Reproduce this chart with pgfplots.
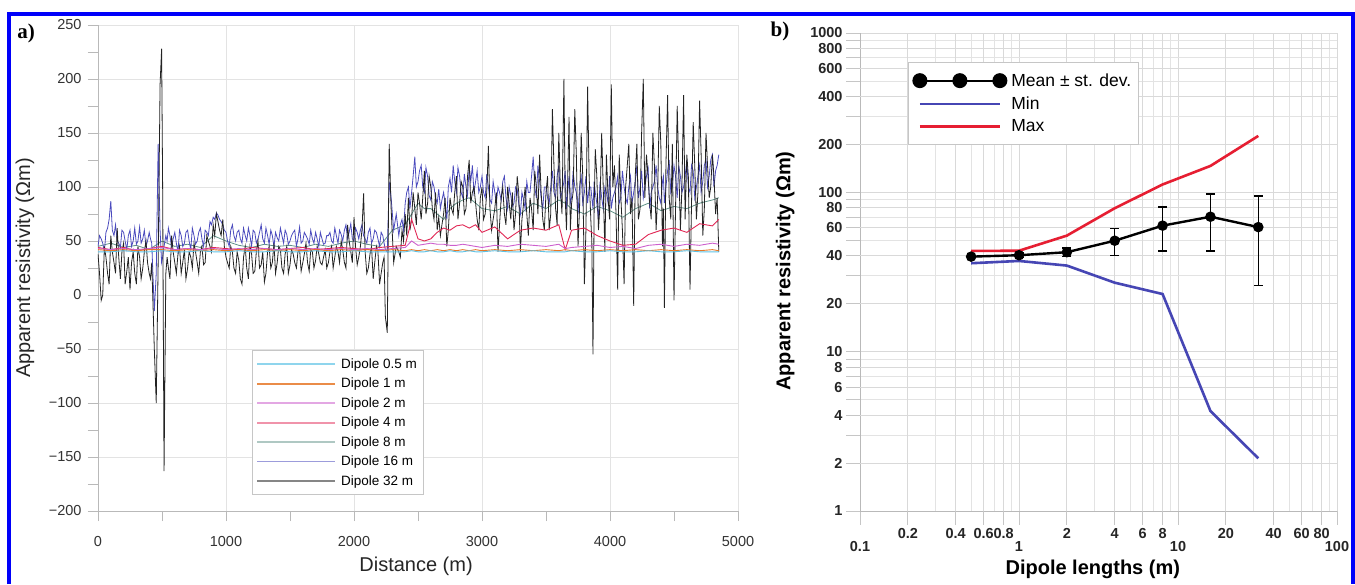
\documentclass[border=0pt]{standalone}
\usepackage{fontspec}
\setmainfont{Liberation Sans}
\newfontfamily\serifbold{Liberation Serif}
\usepackage{pgfplots}
\usepackage{pgfplotstable}
\pgfplotsset{compat=1.18}

\definecolor{cdp05}{RGB}{95,195,230}
\definecolor{cdp1}{RGB}{230,120,40}
\definecolor{cdp2}{RGB}{205,95,205}
\definecolor{cdp4}{RGB}{225,40,85}
\definecolor{cdp8}{RGB}{95,145,135}
\definecolor{cdp16}{RGB}{75,75,190}
\definecolor{cdp32}{RGB}{35,35,35}
\definecolor{cmin}{RGB}{70,70,180}
\definecolor{cmax}{RGB}{230,30,50}
\definecolor{frameblue}{RGB}{0,0,250}

% dipole 16 m and 32 m profiles
\pgfplotstableread{
x b16 b32
0 45 38
12 55 20
25 52 -5
37 48 0
50 40 45
62 58 35
75 62 20
87 70 10
100 87 55
112 60 40
125 55 30
137 65 20
150 50 62
162 48 35
175 44 15
187 60 40
200 58 48
212 50 10
225 42 22
237 55 35
250 60 5
262 45 30
275 50 40
287 62 20
300 47 10
312 50 45
325 63 35
337 48 15
350 52 25
362 60 40
375 45 50
387 50 30
400 58 20
410 52 15
420 48 30
440 -15 -50
455 20 -100
470 140 30
485 60 195
497 30 228
505 35 100
516 45 -163
530 55 20
540 50 35
550 62 25
562 55 15
575 45 55
587 52 40
600 58 30
612 48 20
625 40 38
637 60 45
650 55 20
662 45 30
675 48 42
687 58 15
700 60 25
712 50 40
725 42 35
737 62 25
750 55 48
762 47 40
775 50 30
787 58 20
800 62 40
812 52 45
825 45 28
837 60 30
850 58 55
862 55 50
875 68 45
887 65 40
900 72 65
912 70 55
925 76 75
937 74 68
950 70 60
962 68 55
975 65 70
987 60 45
1000 58 35
1012 50 30
1025 45 25
1037 60 45
1050 65 40
1062 55 25
1075 50 20
1087 58 40
1100 60 32
1112 52 15
1125 48 10
1137 62 35
1150 55 45
1162 50 25
1175 62 15
1187 55 45
1200 45 38
1212 60 20
1225 58 22
1237 48 40
1250 52 50
1262 58 25
1275 65 28
1287 52 40
1300 48 12
1312 62 20
1325 55 40
1337 47 45
1350 60 25
1362 55 30
1375 45 48
1387 58 20
1400 53 30
1412 50 45
1425 62 42
1437 55 25
1450 48 20
1462 60 38
1475 56 45
1487 47 20
1500 50 28
1512 55 42
1525 58 38
1537 60 30
1550 45 25
1562 52 40
1575 63 42
1587 48 22
1600 50 30
1612 58 38
1625 55 48
1637 52 30
1650 47 22
1662 60 42
1675 52 40
1687 48 25
1700 58 32
1712 52 45
1725 45 38
1737 58 30
1750 52 28
1762 47 35
1775 48 42
1787 55 25
1800 55 30
1812 58 40
1825 50 45
1837 48 25
1850 62 35
1862 55 45
1875 48 40
1887 60 30
1900 56 50
1912 50 42
1925 60 30
1937 65 25
1950 52 65
1962 58 50
1975 66 40
1987 52 30
2000 50 72
2012 62 45
2025 58 28
2037 52 35
2050 60 45
2062 65 60
2075 55 94
2087 52 40
2100 48 20
2112 58 25
2125 62 38
2137 48 45
2150 52 15
2162 60 30
2175 58 45
2187 52 40
2200 45 10
2212 58 20
2225 55 30
2235 48 35
2245 42 -20
2260 40 -35
2275 105 140
2290 90 80
2310 60 30
2330 75 45
2350 55 40
2362 65 35
2375 70 60
2387 60 50
2400 85 75
2412 95 55
2425 100 90
2437 80 60
2450 95 70
2462 110 95
2475 128 80
2487 100 65
2500 105 95
2512 115 85
2525 120 70
2537 100 90
2550 95 115
2562 118 75
2575 110 85
2587 92 110
2600 88 100
2612 105 80
2625 100 70
2637 90 95
2650 85 60
2662 98 72
2675 80 55
2687 88 65
2700 95 75
2712 85 90
2725 70 45
2737 100 60
2750 108 90
2762 95 80
2775 120 75
2787 105 95
2800 95 110
2812 118 70
2825 110 85
2837 95 105
2850 90 100
2862 112 75
2875 100 80
2887 92 110
2900 118 125
2912 105 85
2925 120 95
2937 95 100
2950 105 85
2962 115 70
2975 95 60
2987 100 90
3000 110 100
3012 95 70
3025 90 75
3037 112 95
3050 100 138
3062 88 80
3075 85 60
3087 105 70
3100 95 80
3112 85 95
3125 100 40
3137 95 65
3150 88 90
3162 105 100
3175 110 75
3187 90 65
3200 80 100
3212 100 85
3225 92 70
3237 82 95
3250 85 60
3262 100 75
3275 98 110
3287 85 95
3300 75 40
3312 95 70
3325 88 85
3337 80 100
3350 105 75
3362 95 55
3375 95 90
3387 110 80
3400 128 60
3412 100 115
3425 90 100
3437 120 75
3450 105 130
3462 90 95
3475 80 70
3487 100 60
3500 100 95
3512 90 110
3525 85 60
3537 100 75
3550 115 172
3562 95 120
3575 90 80
3587 110 65
3600 120 150
3612 90 100
3625 95 75
3632 100 135
3640 105 200
3650 115 90
3660 80 60
3670 95 110
3680 110 165
3690 85 60
3700 90 85
3712 115 95
3725 100 172
3737 95 130
3750 75 45
3762 100 80
3775 110 150
3787 85 110
3800 95 10
3812 110 60
3825 85 193
3837 100 110
3850 100 70
3858 90 50
3867 80 -55
3876 105 80
3885 95 135
3897 85 110
3910 70 60
3922 105 85
3935 90 150
3947 80 100
3960 100 40
3972 95 130
3985 85 90
3997 110 70
4010 80 195
4022 90 100
4035 95 120
4047 100 75
4060 110 5
4072 85 130
4085 90 90
4097 115 60
4110 100 10
4122 90 100
4135 85 120
4147 100 140
4160 110 75
4172 85 90
4185 95 -10
4197 105 110
4210 120 140
4222 90 70
4235 100 80
4247 115 150
4260 90 200
4272 100 90
4285 110 130
4297 120 110
4310 80 85
4322 95 70
4335 100 150
4347 105 120
4360 120 60
4372 100 90
4385 90 175
4397 85 140
4410 105 45
4417 110 80
4425 85 -12
4437 100 120
4450 115 185
4462 125 90
4475 95 70
4487 100 140
4500 120 -5
4512 110 80
4525 90 175
4537 120 120
4550 110 60
4562 95 100
4575 100 185
4587 110 70
4600 125 130
4612 100 110
4625 95 5
4637 120 85
4650 115 160
4662 90 120
4675 100 70
4687 110 95
4700 120 180
4712 95 130
4725 105 55
4737 120 80
4750 125 150
4762 100 120
4775 110 90
4787 125 100
4800 130 130
4812 100 110
4825 115 75
4837 120 90
4850 130 40
}\noisy

% dipoles 0.5 to 8 m
\pgfplotstableread{
x d05 d1 d2 d4 d8
0 40 42 43 44 45
100 40 41 42 42 48
200 41 42 43 44 44
300 40 41 42 41 46
400 40 42 43 43 42
500 41 42 44 45 50
600 40 41 42 42 45
700 40 42 43 43 47
800 41 41 42 42 44
900 40 42 43 44 55
1000 40 41 42 43 50
1100 41 42 43 42 46
1200 40 41 42 44 44
1300 40 42 43 43 47
1400 41 41 42 42 45
1500 40 42 43 43 46
1600 40 41 42 44 44
1700 41 42 43 42 47
1800 40 41 42 43 45
1900 40 42 43 44 48
2000 41 41 42 43 50
2100 40 42 43 42 47
2200 40 41 42 44 45
2300 40 42 43 45 60
2400 40 41 44 46 65
2450 41 42 50 70 75
2500 40 41 46 52 85
2550 40 42 47 50 80
2600 41 41 48 52 80
2650 40 42 47 58 75
2700 40 41 47 62 70
2750 41 42 46 60 80
2800 40 41 46 64 85
2850 40 42 47 65 88
2900 41 41 46 62 90
2950 40 42 45 65 85
3000 40 41 44 58 80
3100 41 42 46 63 78
3200 40 41 45 52 82
3300 40 42 47 60 75
3400 41 41 46 62 85
3500 40 42 45 60 80
3600 40 41 47 65 88
3650 40 42 43 42 85
3700 41 41 44 60 80
3800 40 42 45 62 75
3900 40 41 46 55 82
4000 41 42 44 50 78
4100 40 41 45 46 72
4200 40 42 43 47 80
4300 41 41 46 56 85
4400 40 42 47 60 78
4500 40 41 45 62 82
4600 41 42 47 58 80
4700 40 41 46 66 85
4800 40 42 48 64 88
4850 40 41 47 70 90
}\smooth

\begin{document}
\begin{tikzpicture}[x=1pt,y=1pt]
\useasboundingbox (0,0) rectangle (1355,584);
\fill[white] (0,0) rectangle (1355,584);

% ---------- a) profiles ----------
\begin{axis}[
  at={(98pt,73pt)}, anchor=south west,
  scale only axis, width=640pt, height=486pt,
  xmin=0, xmax=5000, ymin=-200, ymax=250,
  axis lines*=left,
  axis line style={gray!55},
  xtick={0,1000,...,5000},
  xticklabels={0,1000,2000,3000,4000,5000},
  ytick={-200,-150,...,250},
  yticklabels={−200,−150,−100,−50,0,50,100,150,200,250},
  scaled ticks=false,
  minor x tick num=1, minor y tick num=1,
  tick align=outside, major tick length=10pt, minor tick length=10pt,
  tick style={gray!55, line width=0.8pt},
  grid=major, major grid style={gray!22, line width=0.9pt},
  /pgf/number format/assume math mode=true,
  ticklabel style={font=\fontsize{14.5}{15}\selectfont, text=black!80},
  xticklabel style={yshift=-12pt},
  yticklabel style={xshift=-3pt},
  xlabel={Distance (m)},
  xlabel style={at={(axis description cs:0.497,-0.1146)}, anchor=center, font=\fontsize{20}{20}\selectfont, text=black!85},
  ylabel={Apparent resistivity (Ωm)},
  ylabel style={at={(axis description cs:-0.114,0.5)}, anchor=center, font=\fontsize{20}{20}\selectfont, text=black!85},
  legend style={at={(0.2406,0.331)}, anchor=north west, draw=gray!45, line width=0.8pt,
    fill=white, font=\fontsize{13.5}{14}\selectfont, row sep=4.2pt, column sep=3pt,
    inner xsep=4pt, inner ysep=6pt, cells={anchor=west}},
  legend image code/.code={\draw[#1] (0pt,0pt) -- (78pt,0pt);},
]
\addplot[cdp8, line width=0.8pt, forget plot] table[x=x, y=d8] {\smooth};
\addplot[cdp16, line width=0.8pt, forget plot] table[x=x, y=b16] {\noisy};
\addplot[cdp32, line width=0.8pt, forget plot] table[x=x, y=b32] {\noisy};
\addplot[cdp4, line width=0.9pt, forget plot] table[x=x, y=d4] {\smooth};
\addplot[cdp2, line width=0.9pt, forget plot] table[x=x, y=d2] {\smooth};
\addplot[cdp1, line width=0.9pt, forget plot] table[x=x, y=d1] {\smooth};
\addplot[cdp05, line width=0.9pt, forget plot] table[x=x, y=d05] {\smooth};
\addlegendimage{cdp05!70, line width=1.8pt}\addlegendentry{Dipole 0.5 m}
\addlegendimage{cdp1!85, line width=1.8pt}\addlegendentry{Dipole 1 m}
\addlegendimage{cdp2!55, line width=1.8pt}\addlegendentry{Dipole 2 m}
\addlegendimage{cdp4!50, line width=1.8pt}\addlegendentry{Dipole 4 m}
\addlegendimage{cdp8!50, line width=1.8pt}\addlegendentry{Dipole 8 m}
\addlegendimage{cdp16!55, line width=1.8pt}\addlegendentry{Dipole 16 m}
\addlegendimage{cdp32!55, line width=1.8pt}\addlegendentry{Dipole 32 m}
\end{axis}

% ---------- b) statistics ----------
\begin{axis}[
  at={(860pt,73pt)}, anchor=south west,
  scale only axis, width=477pt, height=478pt,
  xmode=log, ymode=log,
  xmin=0.1, xmax=100, ymin=1, ymax=1000,
  axis lines*=left,
  axis line style={gray!55},
  xtick={0.1,1,10,100}, xticklabels={0.1,1,10,100},
  ytick={1,10,100,1000}, yticklabels={1,10,100,1000},
  extra x ticks={0.2,0.4,0.6,0.8,2,4,6,8,20,40,60,80},
  extra x tick labels={0.2,0.4,0.6,0.8,2,4,6,8,20,40,60,80},
  extra y ticks={2,4,6,8,20,40,60,80,200,400,600,800},
  extra y tick labels={2,4,6,8,20,40,60,80,200,400,600,800},
  extra x tick style={xticklabel style={yshift=13pt}},
  tick align=outside, major tick length=14pt, minor tick length=14pt,
  tick style={gray!45, line width=0.8pt},
  minor x tick style={draw=none},
  grid=both, major grid style={gray!30, line width=0.9pt},
  minor grid style={gray!22, line width=0.8pt},
  /pgf/number format/assume math mode=true,
  ticklabel style={font=\bfseries\fontsize{14.5}{15}\selectfont, text=black!85},
  xticklabel style={yshift=-13pt},
  xlabel={Dipole lengths (m)},
  xlabel style={at={(axis description cs:0.488,-0.123)}, anchor=center, font=\bfseries\fontsize{20}{20}\selectfont},
  ylabel={Apparent resistivity (Ωm)},
  ylabel style={at={(axis description cs:-0.157,0.502)}, anchor=center, font=\bfseries\fontsize{20}{20}\selectfont},
  legend style={at={(0.1006,0.939)}, anchor=north west, draw=gray!45, line width=0.8pt,
    fill=white, font=\fontsize{17.5}{18}\selectfont, row sep=5pt, column sep=3pt,
    inner xsep=5pt, inner ysep=9pt, cells={anchor=west}},
  legend image code/.code={\draw[#1] plot coordinates {(0pt,0pt) (40pt,0pt) (80pt,0pt)};},
]
\addplot[cmin, line width=2.6pt, forget plot] coordinates {
  (0.5,35.9) (1,37.1) (2,34.7) (4,27.1) (8,23.0) (16,4.24) (32,2.14)};
\addplot[cmax, line width=2.6pt, forget plot] coordinates {
  (0.5,42.9) (1,43.0) (2,53.5) (4,79.5) (8,112) (16,146.5) (32,226)};
\addplot[black, line width=2.4pt, mark=*, mark size=4pt, forget plot,
  error bars/.cd, y dir=both, y explicit,
  error bar style={line width=1.5pt},
  error mark options={rotate=90, mark size=4.5pt, line width=1.5pt}]
  coordinates {
  (0.5,39.5) +- (0,0.6)
  (1,40.3) +- (0,1.2)
  (2,42.1) +- (0,2.6)
  (4,49.7) +- (0,9.5)
  (8,61.8) +- (0,19)
  (16,70.3) +- (0,27.5)
  (32,60.5) +- (0,34.5)};
\addlegendimage{black, line width=2pt, mark=*, mark size=6.5pt}\addlegendentry{Mean ± st. dev.}
\addlegendimage{cmin, line width=2.6pt}\addlegendentry{Min}
\addlegendimage{cmax, line width=2.6pt}\addlegendentry{Max}
\end{axis}

% panel letters
\node[font=\serifbold\bfseries\fontsize{21}{21}\selectfont] at (26,551) {a)};
\node[font=\serifbold\bfseries\fontsize{21}{21}\selectfont] at (780,553) {b)};

% blue frame of the figure
\draw[frameblue, line width=4.5pt] (9,0) -- (9,570) -- (1353,570) -- (1353,0);
\end{tikzpicture}
\end{document}
